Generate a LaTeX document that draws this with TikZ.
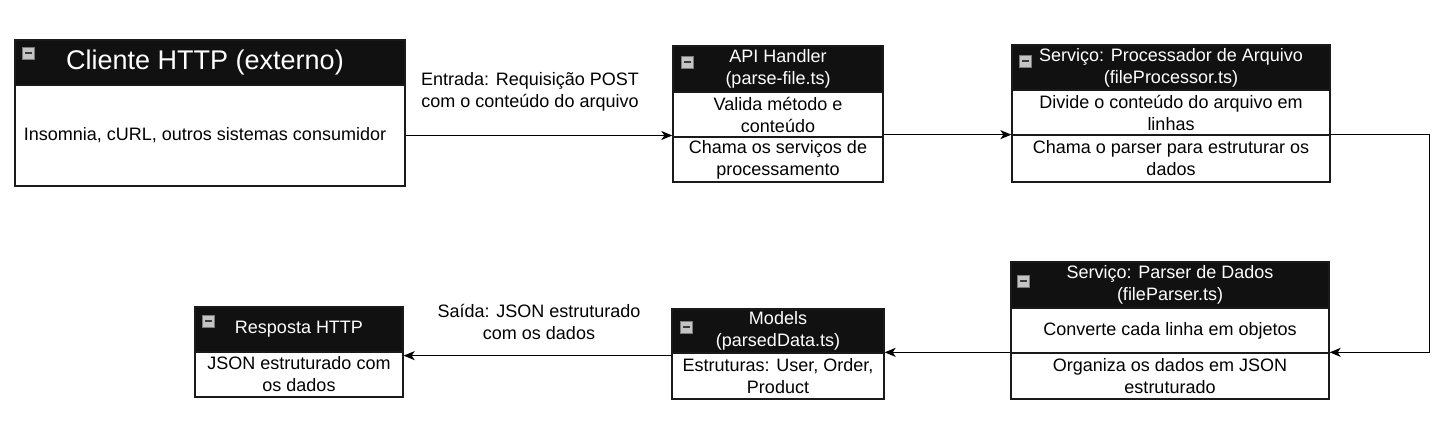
\documentclass[tikz,border=0pt]{standalone}
\usepackage{fontspec}
\setmainfont{Liberation Sans}
\usetikzlibrary{arrows.meta}
\definecolor{hdrfill}{HTML}{111111}
\definecolor{edgecol}{HTML}{1A1A1A}
\definecolor{iconfill}{HTML}{C4C4C4}
\definecolor{iconedge}{HTML}{7A7A7A}
\definecolor{iconbar}{HTML}{3A3A3A}
\tikzset{
  base/.style={draw=edgecol, line width=1.3pt, inner sep=0pt, align=center,
    font=\fontsize{18}{22}\selectfont},
  hdr/.style={base, fill=hdrfill, text=white},
  sec/.style={base, fill=white, text=black},
  conn/.style={draw=black, line width=1.3pt, -{Stealth[length=11pt,width=9pt,inset=3pt]}},
  lbl/.style={inner sep=0pt, align=center, font=\fontsize{18}{22}\selectfont},
  iconbox/.style={draw=iconedge, fill=iconfill, line width=0.8pt, minimum size=12pt, inner sep=0pt},
}
\newcommand{\mkicon}[3]{%
  \node[iconbox, anchor=north west] (#1) at (#2,#3) {};
  \draw[iconbar, line width=2pt] ([xshift=3pt]#1.west) -- ([xshift=-3pt]#1.east);
}
\begin{document}
\begin{tikzpicture}[x=1pt,y=-1pt]
\useasboundingbox (0,0) rectangle (1447,435);

% Box 1: Cliente HTTP
\node[hdr, minimum width=390pt, minimum height=45pt, font=\fontsize{27}{30}\selectfont] (b1h) at (210,62.5) {Cliente HTTP (externo)\hspace*{10pt}};
\node[sec, minimum width=390pt, minimum height=101pt] (b1b) at (210,135.5) {Insomnia, cURL, outros sistemas consumidor\hspace*{10pt}};
\mkicon{i1}{22}{47}

% Box 2: API Handler
\node[hdr, minimum width=210pt, minimum height=46pt] (b2h) at (778,69) {API Handler\\(parse-file.ts)};
\node[sec, minimum width=210pt, minimum height=45pt] (b2s1) at (778,114.5) {Valida método e\\conteúdo};
\node[sec, minimum width=210pt, minimum height=45pt] (b2s2) at (778,159.5) {Chama os serviços de\\processamento};
\mkicon{i2}{681}{56}

% Box 3: Processador de Arquivo
\node[hdr, minimum width=318pt, minimum height=45pt] (b3h) at (1171,67.5) {Serviço: Processador de Arquivo\\(fileProcessor.ts)};
\node[sec, minimum width=318pt, minimum height=45pt] (b3s1) at (1171,112.5) {Divide o conteúdo do arquivo em\\linhas};
\node[sec, minimum width=318pt, minimum height=47pt] (b3s2) at (1171,158.5) {Chama o parser para estruturar os\\dados};
\mkicon{i3}{1019}{55}

% Box 4: Parser de Dados
\node[hdr, minimum width=318pt, minimum height=46pt] (b4h) at (1170,285) {Serviço: Parser de Dados\\(fileParser.ts)};
\node[sec, minimum width=318pt, minimum height=45pt] (b4s1) at (1170,330.5) {Converte cada linha em objetos};
\node[sec, minimum width=318pt, minimum height=46pt] (b4s2) at (1170,376) {Organiza os dados em JSON\\estruturado};
\mkicon{i4}{1017}{275}

% Box 5: Resposta HTTP
\node[hdr, minimum width=208pt, minimum height=45pt] (b5h) at (299,329.5) {Resposta HTTP};
\node[sec, minimum width=208pt, minimum height=45pt] (b5s1) at (299,374.5) {JSON estruturado com\\os dados};
\mkicon{i5}{202}{315}

% Box 6: Models
\node[hdr, minimum width=212pt, minimum height=44pt] (b6h) at (778,331) {Models\\(parsedData.ts)};
\node[sec, minimum width=212pt, minimum height=46pt] (b6s1) at (778,376) {Estruturas: User, Order,\\Product};
\mkicon{i6}{680}{321}

% Connectors
\draw[conn] (b1b.east) -- (b1b.east -| b2s1.west);
\draw[conn] ([yshift=3pt]b2s1.south east) -- ([yshift=3pt]b2s1.south east -| b3s1.west);
\draw[conn] (b3s2.north east) -- ++(99,0) |- (b4s2.north east);
\draw[conn] (b4s2.north west) -- (b4s2.north west -| b6h.east);
\draw[conn] ([yshift=-2pt]b6h.south west) -- ([yshift=-2pt]b6h.south west -| b5s1.east);

% Edge labels
\node[lbl] (l1) at (530,91.5) {Entrada: Requisição POST\\com o conteúdo do arquivo};
\node[lbl] (l2) at (539,322) {Saída: JSON estruturado\\com os dados};
\end{tikzpicture}
\end{document}
